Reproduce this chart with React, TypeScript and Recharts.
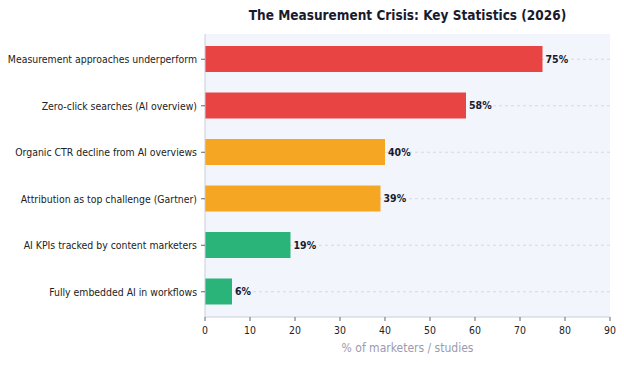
import { BarChart, Bar, XAxis, YAxis, CartesianGrid, Cell, LabelList } from 'recharts';

const categories = [
  'Measurement approaches underperform',
  'Zero-click searches (AI overview)',
  'Organic CTR decline from AI overviews',
  'Attribution as top challenge (Gartner)',
  'AI KPIs tracked by content marketers',
  'Fully embedded AI in workflows',
];
const values = [75, 58, 40, 39, 19, 6];
const barColors = ['#E84444', '#E84444', '#F5A623', '#F5A623', '#2BB47A', '#2BB47A'];
const xTicks = [0, 10, 20, 30, 40, 50, 60, 70, 80, 90];

const font = '"DejaVu Sans Condensed", "DejaVu Sans", sans-serif';

function CategoryTick(props: any) {
  const { x, y, payload } = props;
  return (
    <text x={x} y={y} dy={3.8} textAnchor="end" fill="#222" fontSize={10.4} fontFamily={font}>
      {payload.value}
    </text>
  );
}

function ValueTick(props: any) {
  const { x, y, payload } = props;
  return (
    <text x={x} y={y} dy={11} textAnchor="middle" fill="#222" fontSize={10.4} fontFamily={font}>
      {payload.value}
    </text>
  );
}

function BarValue(props: any) {
  const { x, y, width, height, value } = props;
  return (
    <text
      x={x + width + 3}
      y={y + height / 2}
      dy={3.8}
      textAnchor="start"
      fill="#1a1a2e"
      fontWeight="bold"
      fontSize={10.5}
      fontFamily={font}
    >
      {`${value}%`}
    </text>
  );
}

function AxisTitle(props: any) {
  const { viewBox } = props;
  return (
    <text
      x={viewBox.x + viewBox.width / 2}
      y={352}
      textAnchor="middle"
      fill="#9A9AB0"
      fontSize={12}
      fontFamily={font}
    >
      % of marketers / studies
    </text>
  );
}

export default function App() {
  const data = categories.map((name, i) => ({ name, value: values[i] }));

  return (
    <div style={{ position: 'absolute', left: 0, top: 0, width: 624, height: 365, background: '#fff', fontFamily: font }}>
      <div
        style={{
          position: 'absolute',
          top: 7,
          left: 155,
          width: 505,
          textAlign: 'center',
          fontWeight: 'bold',
          fontSize: 13.5,
          lineHeight: '16px',
          color: '#1a1a2e',
        }}
      >
        The Measurement Crisis: Key Statistics (2026)
      </div>
      <BarChart
        width={624}
        height={365}
        data={data}
        layout="vertical"
        margin={{ top: 34, right: 14, left: 0, bottom: 0 }}
      >
        {/* syncWithTicks: only lines through the bar centres, no edge lines */}
        <CartesianGrid
          horizontal={true}
          vertical={false}
          syncWithTicks={true}
          fill="#F3F5FC"
          stroke="#D3D9E8"
          strokeDasharray="3 3"
        />
        <XAxis
          type="number"
          domain={[0, 90]}
          ticks={xTicks}
          height={48}
          stroke="#C8CEDD"
          tickLine={{ stroke: '#666' }}
          tick={<ValueTick />}
          tickSize={4}
          tickMargin={2}
          label={<AxisTitle />}
        />
        <YAxis
          type="category"
          dataKey="name"
          width={205}
          stroke="#C8CEDD"
          tickLine={{ stroke: '#666' }}
          tick={<CategoryTick />}
          tickSize={4}
          tickMargin={4}
          padding={{ top: 2, bottom: 2 }}
          interval={0}
        />
        <Bar dataKey="value" barSize={26} isAnimationActive={false}>
          {data.map((d, i) => (
            <Cell key={d.name} fill={barColors[i]} />
          ))}
          <LabelList dataKey="value" content={<BarValue />} />
        </Bar>
      </BarChart>
    </div>
  );
}
